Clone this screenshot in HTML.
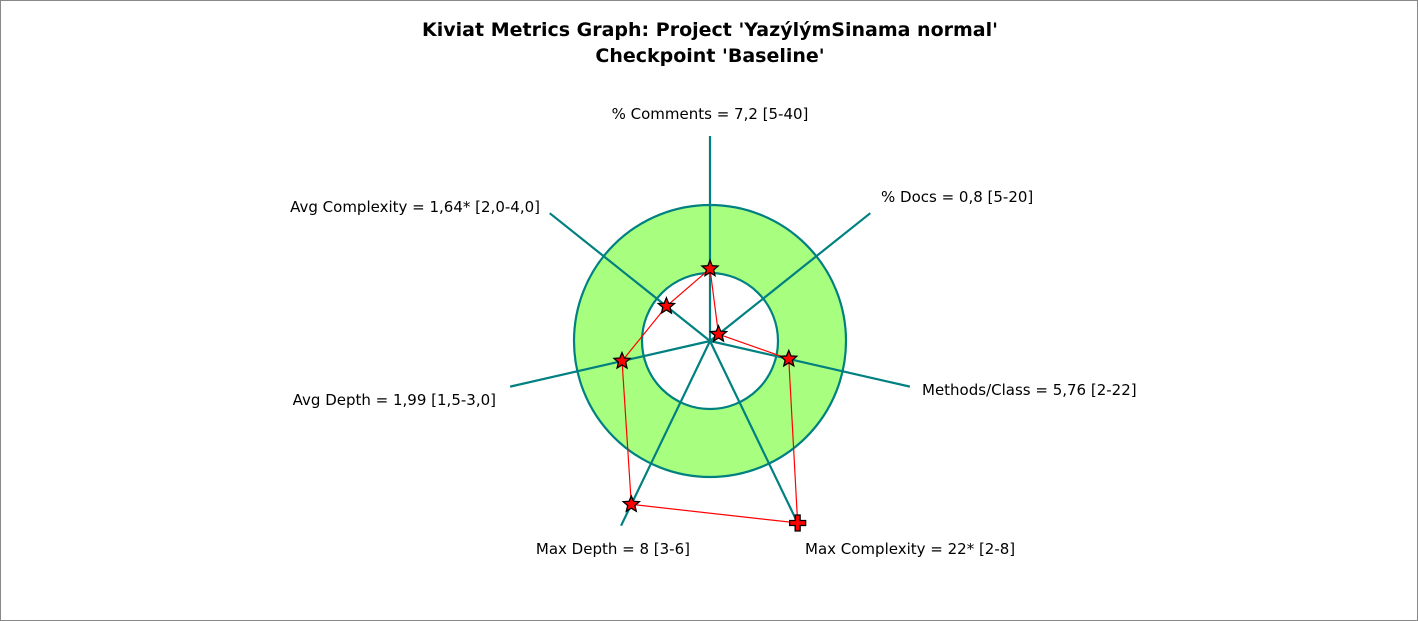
<!DOCTYPE html>
<html><head><meta charset="utf-8"><style>
body{margin:0;background:#fff}
svg{display:block}
text{font-family:"DejaVu Sans","Liberation Sans",sans-serif;fill:#000}
</style></head><body>
<svg width="1418" height="621">
<rect x="0.5" y="0.5" width="1417" height="620" fill="#fff" stroke="#888"/>
<text x="710" y="36" text-anchor="middle" font-size="19" font-weight="bold">Kiviat Metrics Graph: Project 'YazýlýmSinama normal'</text>
<text x="710" y="62" text-anchor="middle" font-size="19" font-weight="bold">Checkpoint 'Baseline'</text>
<g id="g"></g>
</svg>
<script>
const metricNames=["% Comments","% Docs","Methods/Class","Max Complexity","Max Depth","Avg Depth","Avg Complexity"];
const valueLabels=["7,2","0,8","5,76","22*","8","1,99","1,64*"];
const rangeLabels=["[5-40]","[5-20]","[2-22]","[2-8]","[3-6]","[1,5-3,0]","[2,0-4,0]"];
const values=[7.2,0.8,5.76,22,8,1.99,1.64];
const rangeMin=[5,5,2,2,3,1.5,2];
const rangeMax=[40,20,22,8,6,3,4];
const cx=710,cy=341,rIn=68,rOut=136,rAxis=205,rClamp=202;
const NS="http://www.w3.org/2000/svg",g=document.getElementById('g');
function mk(t,a){const e=document.createElementNS(NS,t);for(const k in a)e.setAttribute(k,a[k]);g.appendChild(e);return e;}
function ang(i){return i*2*Math.PI/metricNames.length;}
function pt(i,r){return [cx+r*Math.sin(ang(i)),cy-r*Math.cos(ang(i))];}
function rad(i){const v=values[i];let r;if(v<rangeMin[i])r=rIn*v/rangeMin[i];else r=rIn+(v-rangeMin[i])/(rangeMax[i]-rangeMin[i])*(rOut-rIn);return r>rClamp?{r:rClamp,c:true}:{r:r,c:false};}
let e=mk('path',{d:`M${cx-rOut},${cy}a${rOut},${rOut} 0 1,0 ${2*rOut},0a${rOut},${rOut} 0 1,0 ${-2*rOut},0M${cx-rIn},${cy}a${rIn},${rIn} 0 1,1 ${2*rIn},0a${rIn},${rIn} 0 1,1 ${-2*rIn},0Z`,fill:'#a8ff7f','fill-rule':'evenodd',stroke:'none'});


e=mk('circle',{cx:cx,cy:cy,r:rOut,fill:'none',stroke:'#008080','stroke-width':2.2});


e=mk('circle',{cx:cx,cy:cy,r:rIn,fill:'none',stroke:'#008080','stroke-width':2.2});


const lab=[[710,119,'middle'],[881,202,'start'],[922,395,'start'],[805,554,'start'],[690,554,'end'],[496,405,'end'],[540,212,'end']];
metricNames.forEach((n,i)=>{const p=pt(i,rAxis);
 const l=mk('line',{x1:cx,y1:cy,x2:p[0],y2:p[1],stroke:'#008080','stroke-width':2.2});
 
 
 const t=mk('text',{x:lab[i][0],y:lab[i][1],'text-anchor':lab[i][2],'font-size':15});
 t.textContent=n+' = '+valueLabels[i]+' '+rangeLabels[i];
 
 });
const pts=metricNames.map((n,i)=>pt(i,rad(i).r));
e=mk('polygon',{points:pts.map(p=>p.join(',')).join(' '),fill:'none',stroke:'#f00','stroke-width':1.2});


function star(x,y){let d='';for(let k=0;k<10;k++){const r=k%2?3.8:8.5,a=k*Math.PI/5;d+=(k?'L':'M')+(x+r*Math.sin(a)).toFixed(1)+','+(y-r*Math.cos(a)).toFixed(1);}return d+'Z';}
pts.forEach((p,i)=>{let m;
 if(rad(i).c)m=mk('path',{d:`M${p[0]-2.5},${p[1]-8}h5v5.5h5.5v5h-5.5v5.5h-5v-5.5h-5.5v-5h5.5Z`,fill:'#f00',stroke:'#000','stroke-width':1.3});
 else m=mk('path',{d:star(p[0],p[1]),fill:'#f00',stroke:'#000','stroke-width':1.3});
 
 });
</script>
</body></html>
